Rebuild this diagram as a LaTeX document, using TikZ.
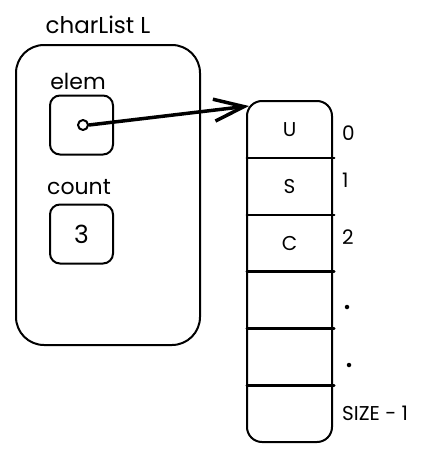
\documentclass[tikz,border=0pt]{standalone}
\usepackage{fontspec}
\setmainfont{Poppins}
\usetikzlibrary{arrows.meta}

\begin{document}
\begin{tikzpicture}[x=1pt,y=-1pt,line cap=round,line join=round,
  box/.style={draw,line width=2pt,rounded corners=10pt,minimum width=63pt,minimum height=59pt,inner sep=0pt},
  cell/.style={minimum width=85pt,minimum height=56.83pt,inner sep=0pt,font=\fontsize{20}{20}\selectfont},
  lbl/.style={font=\fontsize{22}{22}\selectfont,inner sep=0pt},
  idx/.style={font=\fontsize{20}{20}\selectfont,inner sep=0pt,anchor=west}]
  \useasboundingbox (0,0) rectangle (431,461);
  % the struct
  \node[draw,line width=2pt,rounded corners=28pt,minimum width=184pt,minimum height=300pt] (L) at (108,195) {};
  \node[lbl,font=\fontsize{23}{23}\selectfont] (title) at (98,25) {charList L};
  \node[lbl] (elemlbl) at (78,81) {elem};
  \node[box] (elem) at (81.5,125) {};
  \node[draw,circle,line width=2pt,fill=white,minimum size=10pt,inner sep=0pt] (dot) at (83,125) {};
  \node[lbl] (countlbl) at (79,187) {count};
  \node[box,font=\fontsize{25}{25}\selectfont] (count) at (81.5,234) {3};

  % the array
  \node[draw,line width=2pt,rounded corners=15pt,minimum width=85pt,minimum height=341pt,inner sep=0pt] (arr) at (289.5,271.5) {};
  \node[cell] (c0) at (289.5,129.4) {U};
  \node[cell] (c1) at (289.5,186.2) {S};
  \node[cell] (c2) at (289.5,243.1) {C};
  \node[cell] (c3) at (289.5,299.9) {};
  \node[cell] (c4) at (289.5,356.7) {};
  \node[cell] (c5) at (289.5,413.6) {};
  \foreach \i in {0,...,4}
    \draw[line width=2.6pt] (c\i.south west) -- ([xshift=2pt]c\i.south east);

  % indices
  \node[idx] (i0) at (342,133) {0};
  \node[idx] (i1) at (342,180) {1};
  \node[idx] (i2) at (342,237) {2};
  \node[circle,fill,inner sep=0pt,minimum size=4.5pt] (d1) at (347,307) {};
  \node[circle,fill,inner sep=0pt,minimum size=4.5pt] (d2) at (349,365) {};
  \node[idx] (ilast) at (342,413) {SIZE - 1};

  % pointer
  \draw[line width=3.5pt,-{Straight Barb[length=30pt,width=22pt,line width=3.5pt]}] (dot.east) -- ([shift={(3,6)}]arr.north west);
\end{tikzpicture}
\end{document}
